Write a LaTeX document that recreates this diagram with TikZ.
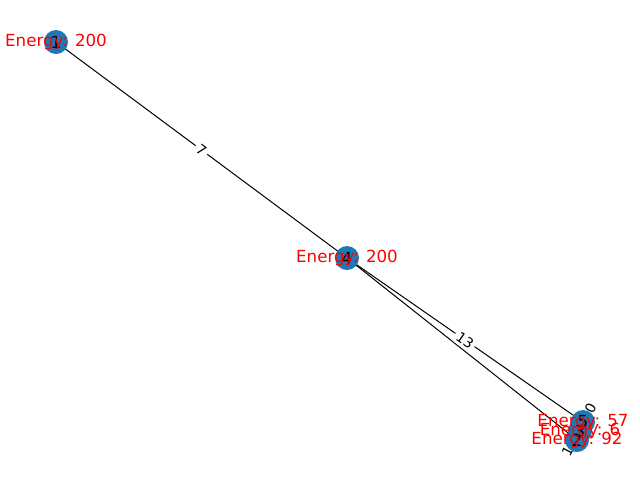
\documentclass[tikz,border=0pt]{standalone}
\usepackage{fontspec}
\setmainfont{DejaVu Sans}
\usetikzlibrary{calc}
\begin{document}
\begin{tikzpicture}[x=0.75pt,y=-0.75pt,
  vert/.style={circle,fill=nxblue,minimum size=18pt,inner sep=0pt},
  vid/.style={font=\fontsize{12.5}{14}\selectfont,text=black},
  energy/.style={font=\fontsize{12.5}{14}\selectfont,text=red},
  elabel/.style={font=\fontsize{10.4}{12}\selectfont,fill=white,rounded corners=3pt,inner sep=2pt},
  edge/.style={draw=black,line width=0.75pt}]
\definecolor{nxblue}{HTML}{1F78B4}
\useasboundingbox (0,0) rectangle (640,480);
\coordinate (p1) at (56,42);
\coordinate (p4) at (347,258);
\coordinate (p5) at (583,422);
\coordinate (p3) at (580,431);
\coordinate (p2) at (577,440);
% edges
\draw[edge] (p1) -- (p4);
\draw[edge] (p4) -- (p5);
\draw[edge] (p4) -- (p2);
\draw[edge] (p5) -- (p3);
\draw[edge] (p3) -- (p2);
% edge labels
\node[elabel,rotate=-36.6] (l14) at ($(p1)!0.5!(p4)$) {7};
\node[elabel,rotate=-34.8] (l45) at ($(p4)!0.5!(p5)$) {13};
\node[elabel,rotate=62] (l52) at (579,430) {1.00000};
% nodes
\node[vert] (n1) at (p1) {};
\node[vert] (n4) at (p4) {};
\node[vert] (n5) at (p5) {};
\node[vert] (n3) at (p3) {};
\node[vert] (n2) at (p2) {};
% ids
\node[vid] (t1) at (p1) {1};
\node[vid] (t4) at (p4) {4};
\node[vid] (t5) at (p5) {5};
\node[vid] (t3) at (p3) {3};
\node[vid] (t2) at (p2) {2};
% energy
\node[energy] (e1) at (p1) {Energy: 200};
\node[energy] (e4) at (p4) {Energy: 200};
\node[energy] (e5) at (p5) {Energy: 57};
\node[energy] (e3) at (p3) {Energy: 6};
\node[energy] (e2) at (p2) {Energy: 92};
\end{tikzpicture}
\end{document}
